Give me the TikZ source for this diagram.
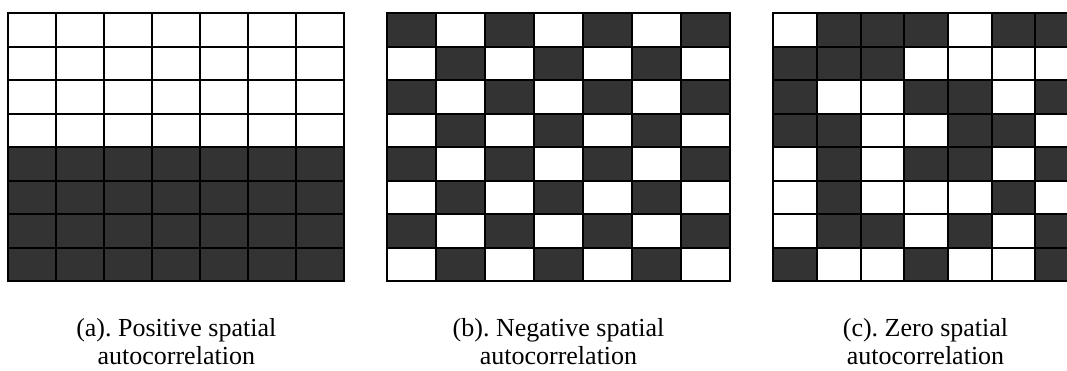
\documentclass[tikz,border=0pt]{standalone}
\usepackage{fontspec}
\setmainfont{Liberation Serif}
\definecolor{cell}{HTML}{333333}
\begin{document}
\frenchspacing
\begin{tikzpicture}[x=1pt,y=-1pt,
  gridline/.style={line width=2pt, draw=black},
  lab/.style={anchor=base, inner sep=0pt, font=\fontsize{26}{28}\selectfont}]
\useasboundingbox (0,0) rectangle (1067,370);
\clip (0,0) rectangle (1067,370);
\def\top{13.3}
\def\rh{33.46}
% ---------- (a) positive ----------
\def\xa{8.3}\def\wa{48}
\fill[cell] (\xa,{\top+4*\rh}) rectangle ({\xa+7*\wa},{\top+8*\rh});
\foreach \i in {0,...,7} \draw[gridline] ({\xa+\wa*\i},\top) -- ({\xa+\wa*\i},{\top+8*\rh});
\foreach \j in {0,...,8} \draw[gridline] (\xa,{\top+\rh*\j}) -- ({\xa+7*\wa},{\top+\rh*\j});
\draw[gridline] (\xa,\top) rectangle ({\xa+7*\wa},{\top+8*\rh});
% ---------- (b) negative ----------
\def\xb{386.7}\def\wb{49}
\foreach \j in {0,...,7}{
  \foreach \i in {0,...,6}{
    \pgfmathparse{int(mod(\i+\j,2))}
    \ifnum\pgfmathresult=0
      \fill[cell] ({\xb+\wb*\i},{\top+\rh*\j}) rectangle ({\xb+\wb*(\i+1)},{\top+\rh*(\j+1)});
    \fi
  }
}
\foreach \i in {0,...,7} \draw[gridline] ({\xb+\wb*\i},\top) -- ({\xb+\wb*\i},{\top+8*\rh});
\foreach \j in {0,...,8} \draw[gridline] (\xb,{\top+\rh*\j}) -- ({\xb+7*\wb},{\top+\rh*\j});
\draw[gridline] (\xb,\top) rectangle ({\xb+7*\wb},{\top+8*\rh});
% ---------- (c) zero ----------
\def\xc{773.3}\def\wc{43.65}
\foreach \row [count=\j from 0] in {{0,1,1,1,0,1,1},{1,1,1,0,0,0,0},{1,0,0,1,1,0,1},{1,1,0,0,1,1,0},{0,1,0,1,1,0,1},{0,1,0,0,0,1,0},{0,1,1,0,1,0,1},{1,0,0,1,0,0,1}}{
  \foreach \v [count=\i from 0] in \row {
    \ifnum\v=1
      \fill[cell] ({\xc+\wc*\i},{\top+\rh*\j}) rectangle ({\xc+\wc*(\i+1)},{\top+\rh*(\j+1)});
    \fi
  }
}
\foreach \i in {0,...,7} \draw[gridline] ({\xc+\wc*\i},\top) -- ({\xc+\wc*\i},{\top+8*\rh});
\foreach \j in {0,...,8} \draw[gridline] (\xc,{\top+\rh*\j}) -- ({\xc+7*\wc},{\top+\rh*\j});
\draw[gridline] (\xc,\top) rectangle ({\xc+7*\wc},{\top+8*\rh});
% ---------- labels ----------
\node[lab] (la1) at (176.3,336) {(a). Positive spatial};
\node[lab] (la2) at (176.3,364) {autocorrelation};
\node[lab] (lb1) at (558.5,336) {(b). Negative spatial};
\node[lab] (lb2) at (558.5,364) {autocorrelation};
\node[lab] (lc1) at (925.5,336) {(c). Zero spatial};
\node[lab] (lc2) at (925.5,364) {autocorrelation};
\end{tikzpicture}
\end{document}
